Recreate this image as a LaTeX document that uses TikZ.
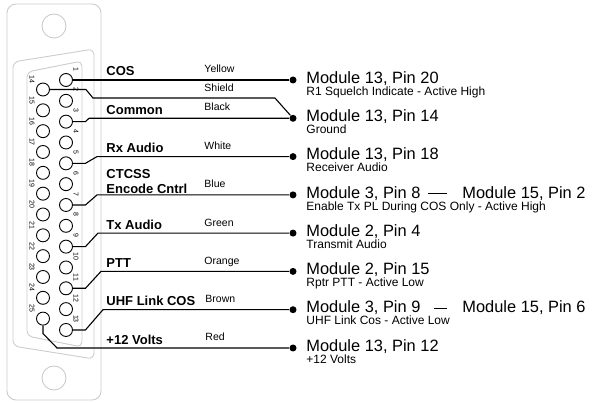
\documentclass[tikz,border=0pt]{standalone}
\usepackage{fontspec}
\setmainfont{Liberation Sans}
\usetikzlibrary{calc,positioning}
\tikzset{font=\fontsize{10}{12}\selectfont}
\tikzstyle{pin}=[circle,draw,inner sep=0pt,minimum size=13pt,line width=0.9pt]
\tikzstyle{pinno}=[font=\fontsize{7}{8}\selectfont,rotate=-90,inner sep=0pt]
\tikzstyle{dot}=[circle,fill=black,inner sep=0pt,minimum size=7pt]
\tikzstyle{sig}=[font=\fontsize{13}{15}\selectfont\bfseries,anchor=base west,inner sep=0pt]
\tikzstyle{wcol}=[font=\fontsize{10.5}{12}\selectfont,anchor=base west,inner sep=0pt]
\tikzstyle{modl}=[font=\fontsize{16.4}{18}\selectfont,anchor=base west,inner sep=0pt]
\tikzstyle{desc}=[font=\fontsize{12}{14}\selectfont,anchor=base west,inner sep=0pt]
\tikzstyle{shell}=[draw=black!20,line width=0.9pt]
\tikzstyle{wire}=[line width=1.1pt]

\begin{document}
\begin{tikzpicture}[x=1pt,y=-1pt,line width=0.9pt]
\useasboundingbox (0,0) rectangle (592,403);
% DB-25 plate
\draw[shell,rounded corners=9pt] (7,4) rectangle (101,400);
\draw[shell] (54,26) circle (12pt);
\draw[shell] (54,378) circle (12pt);
\draw[shell,rounded corners=6pt] (13,62) -- (94,49) -- (94,359) -- (13,346) -- cycle;
\draw[shell,rounded corners=5pt] (27,72) -- (82,61) -- (82,347) -- (27,336) -- cycle;
% pins
\foreach \i in {1,...,13}
  \node[pin] (p\i) at (66,{80+20.83*(\i-1)}) {};
\foreach \i in {14,...,25}
  \node[pin] (p\i) at (43,{89.5+20.83*(\i-14)}) {};
\foreach \i in {1,...,13}
  \node[pinno] (n\i) at ($(p\i)+(10,-11)$) {\i};
\foreach \i in {14,...,25}
  \node[pinno] (n\i) at ($(p\i)+(-11,-10)$) {\i};
% module ends
\node[dot] (d1) at (293,80) {};
\node[dot] (d2) at (293,118.3) {};
\node[dot] (d3) at (293,156.6) {};
\node[dot] (d4) at (293,194.9) {};
\node[dot] (d5) at (293,233.1) {};
\node[dot] (d6) at (293,271.4) {};
\node[dot] (d7) at (293,309.7) {};
\node[dot] (d8) at (293,348) {};
% signal names
\node[sig] (s1) at (106,76) {COS};
\node[sig] (s2) at (106,114.3) {Common};
\node[sig] (s3) at (106,152.6) {Rx Audio};
\node[sig] (s4) at (106,179) {CTCSS};
\node[sig] (s4b) at (106,194) {Encode Cntrl};
\node[sig] (s5) at (106,229.1) {Tx Audio};
\node[sig] (s6) at (106,267.4) {PTT};
\node[sig] (s7) at (106,305.7) {UHF Link COS};
\node[sig] (s8) at (106,344.5) {+12 Volts};
% wire colours
\node[wcol] (c1) at (204,73) {Yellow};
\node[wcol] (c2) at (204,92) {Shield};
\node[wcol] (c3) at (204,110.5) {Black};
\node[wcol] (c4) at (204,149.6) {White};
\node[wcol] (c5) at (204,187.9) {Blue};
\node[wcol] (c6) at (204,226.1) {Green};
\node[wcol] (c7) at (204,264.4) {Orange};
\node[wcol] (c8) at (205,302.7) {Brown};
\node[wcol] (c9) at (205,341) {Red};
% module pins
\node[modl] (m1) at (306,83.3) {Module 13, Pin 20};
\node[desc] (t1) at (306,95.3) {R1 Squelch Indicate - Active High};
\node[modl] (m2) at (306,121.6) {Module 13, Pin 14};
\node[desc] (t2) at (306,133.6) {Ground};
\node[modl] (m3) at (306,159.9) {Module 13, Pin 18};
\node[desc] (t3) at (306,171.9) {Receiver Audio};
\node[modl] (m4) at (306,198.2) {Module 3, Pin 8};
\node[modl] (m4b) at (462,198.2) {Module 15, Pin 2};
\node[desc] (t4) at (306,210.2) {Enable Tx PL During COS Only - Active High};
\node[modl] (m5) at (306,236.4) {Module 2, Pin 4};
\node[desc] (t5) at (306,248.4) {Transmit Audio};
\node[modl] (m6) at (306,274.7) {Module 2, Pin 15};
\node[desc] (t6) at (306,286.7) {Rptr PTT - Active Low};
\node[modl] (m7) at (306,313) {Module 3, Pin 9};
\node[modl] (m7b) at (462,313) {Module 15, Pin 6};
\node[desc] (t7) at (306,325) {UHF Link Cos - Active Low};
\node[modl] (m8) at (306,351.3) {Module 13, Pin 12};
\node[desc] (t8) at (306,363.3) {+12 Volts};
% wires
\draw[wire] (p1) -- (d1);
\draw[wire] (p14.east) -- ++(36,0) -- ++(7,8.5) -- ++(182,0) -- (d2);
\draw[wire] (p3.east) -- ++(12.5,0) -- (89,0 |- d2) -- (d2);
\draw[wire] (p5.east) -- ++(12.5,0) -- (97,0 |- d3) -- (d3);
\draw[wire] (p7.east) -- ++(12.5,0) -- (97,0 |- d4) -- (d4);
\draw[wire] (p9.east) -- ++(12.5,0) -- (98,0 |- d5) -- (d5);
\draw[wire] (p11.east) -- ++(12.5,0) -- (101,0 |- d6) -- (d6);
\draw[wire] (p13.east) -- ++(12.5,0) -- (103,0 |- d7) -- (d7);
\draw[wire] (p25.south) -- ++(0,8) -- (57,0 |- d8) -- (d8);
\draw[shorten <=7pt,shorten >=15pt] (m4) -- (m4b);
\draw[shorten <=13pt,shorten >=15pt] (m7) -- (m7b);
\end{tikzpicture}
\end{document}
